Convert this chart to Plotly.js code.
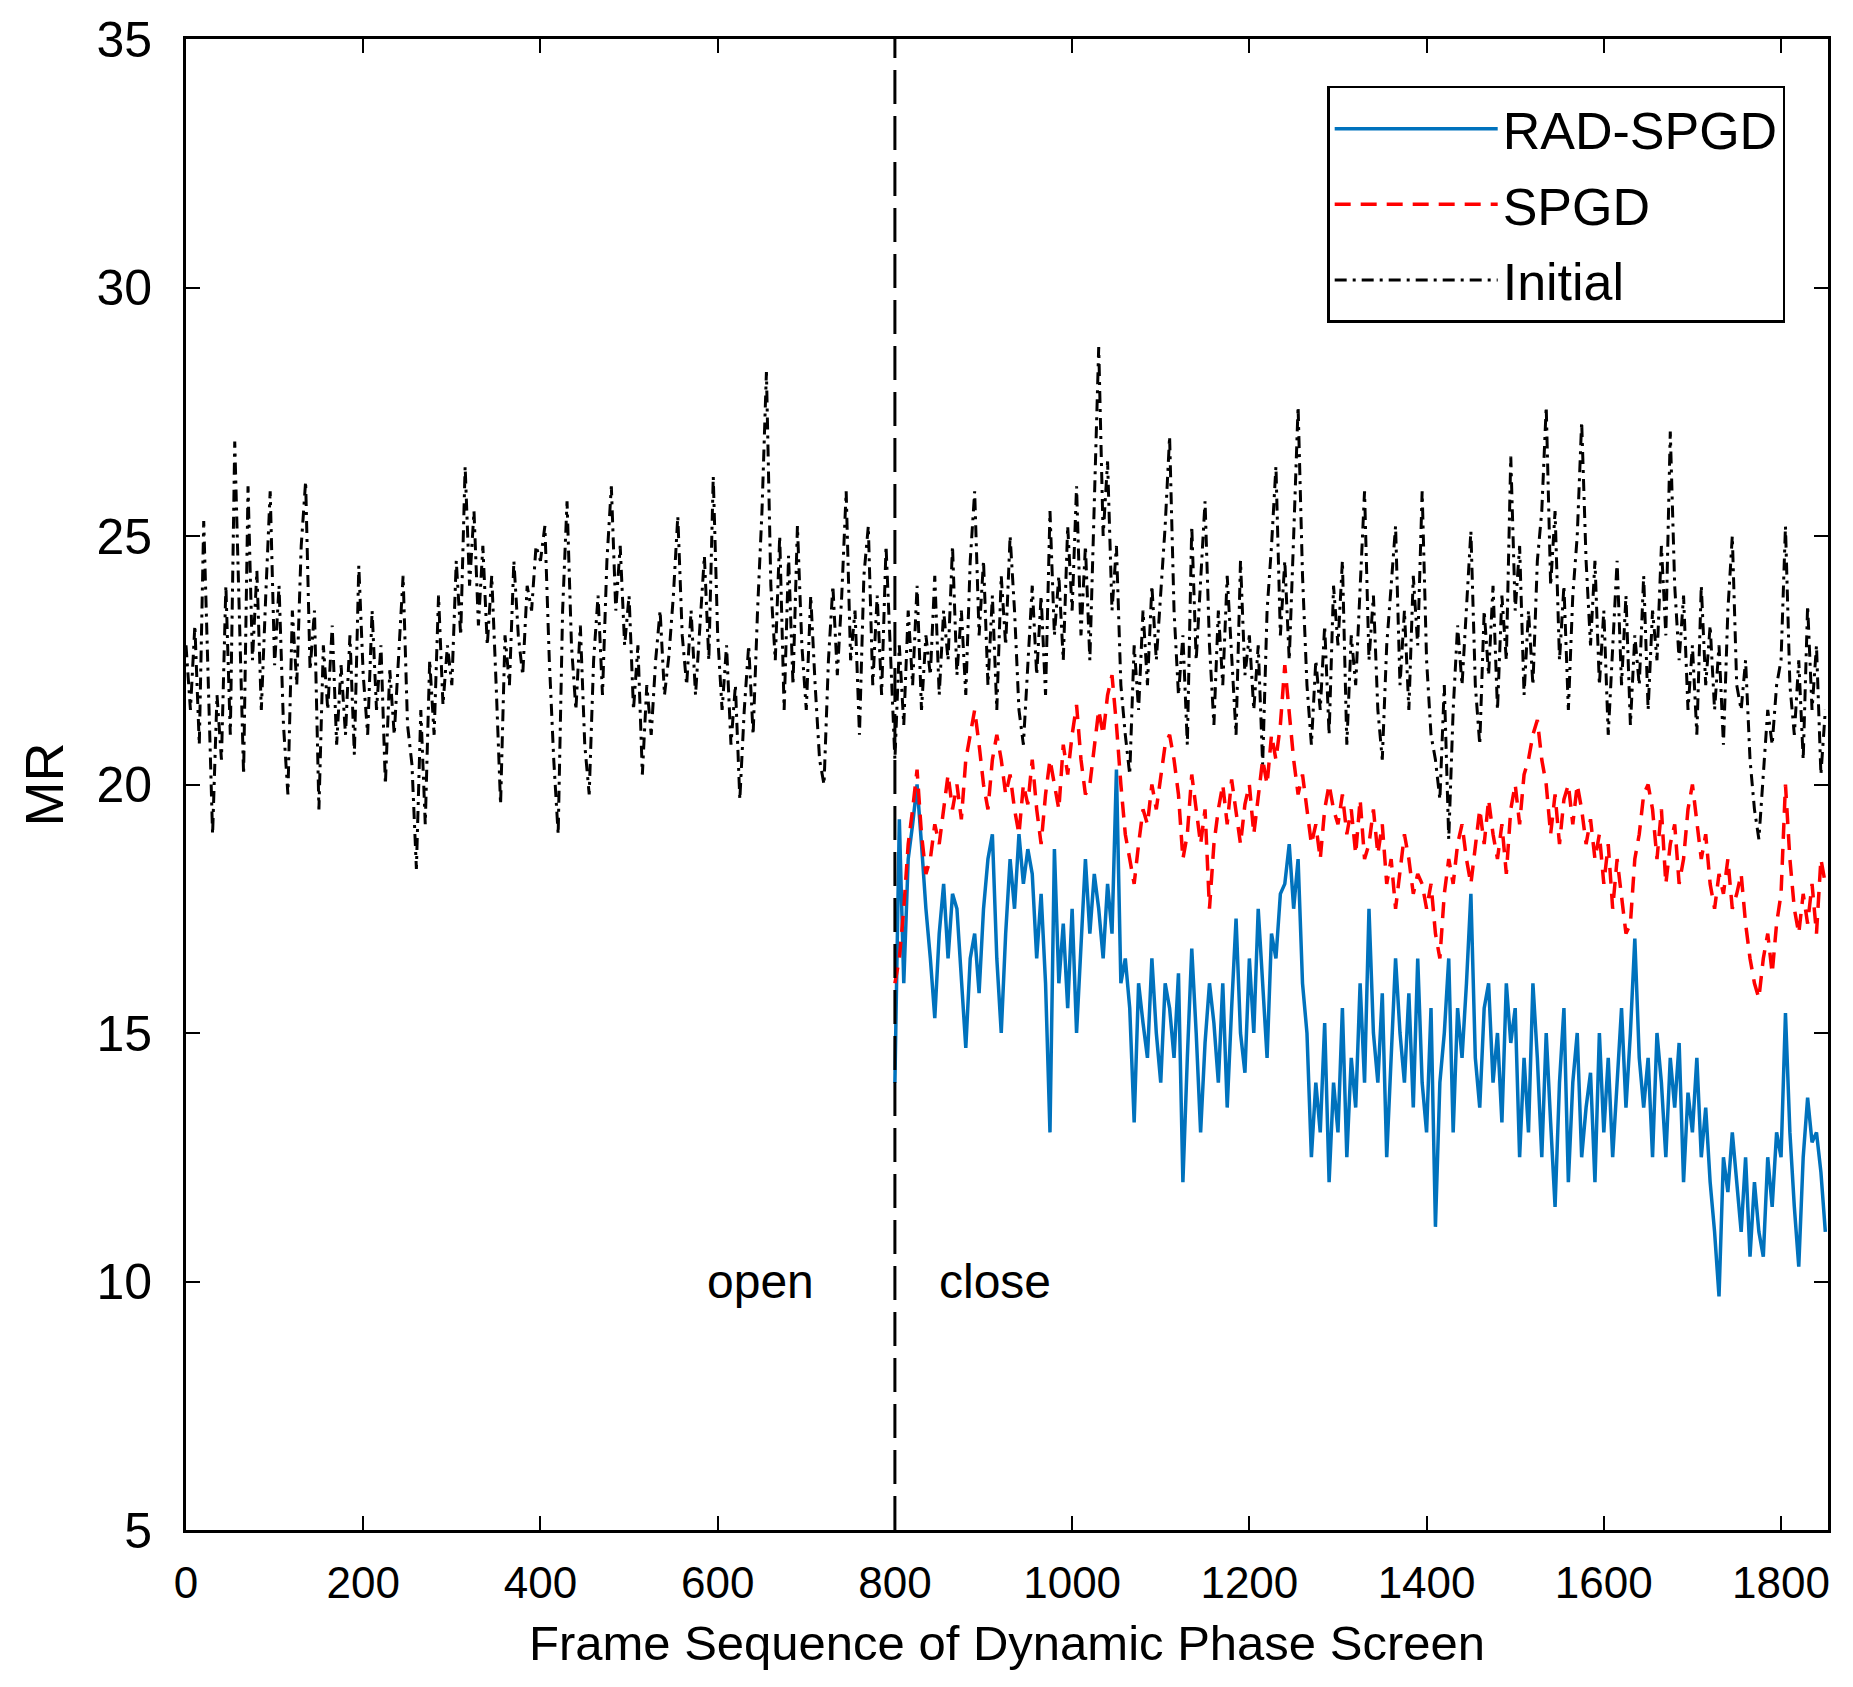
<!DOCTYPE html>
<html>
<head>
<meta charset="utf-8">
<script src="https://cdn.plot.ly/plotly-3.0.1.min.js"></script>
<style>
    html, body { margin: 0; padding: 0; background: #fff; }
    #mr-diagram { width: 1853px; height: 1687px; }
</style>
</head>
<body>
<div id="mr-diagram"></div>
<script>
const FRAME_STEP = 5;
const CLOSE_START = 800;

// Initial (open loop) MR, frames 0..1850
const initialMR = [
    22.8, 21.5, 23.2, 20.8, 25.3, 22.0, 19.0, 21.8, 20.5, 24.0, 21.0, 26.9, 23.5, 20.2, 26.0, 22.5, 24.3, 21.5, 23.8, 25.9,
    22.4, 24.0, 21.2, 19.8, 23.5, 22.0, 24.8, 26.1, 22.3, 23.5, 19.5, 22.8, 21.5, 23.2, 20.8, 22.4, 21.0, 23.0, 20.6, 24.4,
    22.2, 21.0, 23.5, 21.5, 22.8, 20.0, 22.3, 21.0, 22.6, 24.2, 21.2, 20.4, 18.3, 21.5, 19.2, 22.5, 21.0, 23.8, 21.6, 22.8,
    22.0, 24.5, 23.0, 26.4, 24.0, 25.5, 23.2, 24.8, 22.8, 24.2, 22.0, 19.6, 23.0, 22.0, 24.5, 23.0, 22.2, 24.0, 23.5, 24.8,
    24.5, 25.2, 22.5, 20.5, 19.0, 23.5, 25.7, 22.8, 21.5, 23.2, 20.8, 19.8, 22.5, 23.8, 21.8, 24.5, 26.0, 23.5, 24.8, 22.8,
    23.8, 21.5, 22.8, 20.2, 22.0, 21.0, 22.5, 23.5, 21.8, 22.6, 23.8, 25.4, 23.0, 22.0, 23.5, 21.8, 23.2, 24.6, 22.5, 26.2,
    23.0, 21.5, 22.8, 20.8, 22.0, 19.7, 21.5, 22.8, 21.0, 23.5, 25.5, 28.3, 24.0, 22.5, 25.0, 21.5, 24.6, 22.0, 25.2, 22.8,
    21.5, 23.8, 22.0, 20.5, 20.0, 22.5, 24.0, 22.2, 23.8, 25.9, 22.5, 23.5, 21.0, 24.2, 25.2, 22.0, 23.8, 21.8, 24.8, 22.5,
    20.5, 22.8, 21.2, 23.5, 22.0, 24.0, 21.5, 23.0, 22.2, 24.2, 21.8, 23.5, 22.5, 24.8, 22.2, 23.5, 21.8, 24.5, 25.9, 23.0,
    24.5, 22.0, 23.8, 21.5, 24.2, 22.8, 25.0, 23.5, 21.5, 20.8, 22.5, 24.0, 22.2, 23.8, 21.8, 25.5, 23.0, 24.2, 22.5, 25.2,
    23.5, 26.0, 23.0, 24.8, 22.5, 25.5, 28.8, 25.0, 26.5, 23.5, 24.8, 22.0, 21.0, 20.2, 22.8, 21.5, 23.5, 22.0, 24.0, 22.5,
    23.8, 25.2, 27.0, 23.5, 21.8, 23.0, 20.8, 25.2, 22.5, 24.0, 25.7, 22.8, 21.2, 23.5, 22.0, 24.2, 22.6, 21.0, 24.5, 22.2,
    23.0, 21.5, 22.8, 20.4, 23.5, 24.8, 26.4, 23.0, 24.5, 22.5, 25.0, 27.6, 24.2, 22.0, 20.8, 22.5, 21.5, 23.2, 21.0, 24.0,
    22.8, 24.5, 20.8, 23.0, 22.0, 24.0, 25.9, 22.5, 23.8, 21.5, 20.5, 22.8, 24.0, 25.2, 22.0, 23.5, 21.5, 24.2, 22.8, 25.9,
    22.5, 21.0, 20.5, 19.7, 22.0, 18.9, 21.5, 23.2, 22.0, 23.5, 25.1, 22.0, 20.8, 23.5, 22.2, 24.0, 21.5, 23.8, 22.5, 26.6,
    23.5, 24.8, 21.8, 23.5, 22.0, 24.5, 25.5, 27.6, 24.0, 25.5, 22.5, 24.0, 21.5, 23.8, 25.0, 27.3, 24.5, 22.8, 24.5, 22.0,
    23.5, 21.0, 22.8, 24.5, 22.0, 23.8, 21.2, 23.0, 22.0, 24.2, 21.5, 23.5, 22.5, 24.8, 23.0, 27.1, 24.0, 22.5, 23.8, 21.5,
    22.8, 21.0, 24.0, 22.0, 23.2, 21.5, 22.8, 20.8, 23.5, 25.0, 22.0, 21.5, 22.5, 20.5, 19.5, 18.9, 20.2, 21.5, 20.8, 22.0,
    22.5, 25.2, 22.0, 21.0, 22.5, 20.5, 23.6, 21.5, 22.8, 20.2, 21.5
];

// SPGD closed loop MR, frames 800..1850
const spgdMR = [
    16.0, 16.5, 17.5, 18.8, 19.5, 20.3, 19.0, 18.2, 18.5, 19.2, 18.8, 19.5, 20.2, 19.5, 20.0, 19.3, 20.5, 21.0, 21.5, 20.8,
    20.0, 19.5, 20.5, 21.0, 20.5, 19.8, 20.2, 19.5, 19.0, 20.0, 19.6, 20.5, 19.5, 18.8, 19.8, 20.5, 20.0, 19.5, 20.8, 20.2,
    21.0, 21.6, 20.5, 19.8, 20.0, 20.8, 21.5, 21.0, 21.8, 22.2, 21.2, 20.0, 19.0, 18.5, 18.0, 18.8, 19.5, 19.2, 20.0, 19.5,
    20.2, 20.8, 21.0, 20.5, 19.8, 18.5, 19.0, 20.2, 19.5, 18.8, 19.5, 17.5, 18.8, 19.5, 20.0, 19.2, 20.1, 19.5, 18.8, 19.6,
    20.0, 19.0, 19.8, 20.5, 20.0, 21.0, 20.5, 21.2, 22.4, 21.5, 20.5, 19.8, 20.2, 19.5, 18.8, 19.2, 18.5, 19.5, 20.0, 19.5,
    19.2, 19.8, 19.0, 19.5, 18.6, 19.7, 18.5, 18.8, 19.5, 18.6, 19.2, 18.0, 18.5, 17.5, 18.2, 19.0, 18.5, 17.8, 18.2, 18.0,
    17.5, 18.0, 17.0, 16.5, 17.8, 18.5, 18.0, 18.8, 19.2, 18.5, 18.0, 18.8, 19.5, 18.8, 19.7, 19.0, 18.5, 19.2, 18.2, 19.5,
    20.0, 19.2, 20.2, 20.5, 21.0, 21.3, 20.5, 20.0, 19.0, 19.8, 18.8, 19.7, 20.0, 19.2, 20.0, 19.5, 18.8, 19.3, 18.5, 19.0,
    18.0, 18.8, 17.5, 18.5, 17.8, 17.0, 17.2, 18.5, 19.0, 19.8, 20.0, 19.5, 18.5, 19.5, 18.0, 18.8, 19.2, 18.0, 18.5, 19.5,
    20.0, 19.2, 18.5, 19.0, 18.0, 17.5, 18.2, 17.8, 18.5, 17.5, 17.8, 18.2, 17.2, 16.5, 16.0, 15.7, 16.5, 17.0, 16.2, 17.2,
    17.8, 20.0, 18.5, 17.5, 17.0, 17.8, 17.2, 18.0, 17.0, 18.5, 18.0
];

// RAD-SPGD closed loop MR, frames 800..1850
const radSpgdMR = [
    14.0, 19.3, 16.0, 18.5, 19.2, 20.0, 18.8, 17.5, 16.5, 15.3, 17.0, 18.0, 16.5, 17.8, 17.5, 16.0, 14.7, 16.5, 17.0, 15.8,
    17.5, 18.5, 19.0, 16.5, 15.0, 17.0, 18.5, 17.5, 19.0, 18.0, 18.7, 18.2, 16.5, 17.8, 16.0, 13.0, 18.7, 16.0, 17.2, 15.5,
    17.5, 15.0, 16.8, 18.5, 17.0, 18.2, 17.5, 16.5, 18.0, 17.0, 20.3, 16.0, 16.5, 15.5, 13.2, 16.0, 15.2, 14.5, 16.5, 15.0,
    14.0, 16.0, 15.5, 14.5, 16.2, 12.0, 14.5, 16.7, 15.0, 13.0, 14.8, 16.0, 15.2, 14.0, 16.0, 13.5, 15.5, 17.3, 15.0, 14.2,
    16.5, 15.0, 17.5, 16.0, 14.5, 17.0, 16.5, 17.8, 18.0, 18.8, 17.5, 18.5, 16.0, 15.0, 12.5, 14.0, 13.0, 15.2, 12.0, 14.0,
    13.0, 15.5, 12.5, 14.5, 13.5, 16.0, 14.0, 17.5, 15.0, 14.0, 15.8, 12.5, 14.5, 16.5, 15.0, 14.0, 15.8, 13.5, 16.5, 14.0,
    13.0, 15.5, 11.1, 14.0, 15.0, 16.5, 13.0, 15.5, 14.5, 16.0, 17.8, 14.5, 13.5, 15.5, 16.0, 14.0, 15.0, 13.2, 16.0, 14.8,
    15.5, 12.5, 14.5, 13.0, 16.0, 14.5, 12.5, 15.0, 13.2, 11.5, 14.0, 15.5, 12.0, 14.0, 15.0, 12.5, 13.5, 14.2, 12.0, 15.0,
    13.0, 14.5, 12.5, 14.0, 15.5, 13.5, 15.0, 16.9, 14.5, 13.5, 14.5, 12.5, 15.0, 14.0, 12.5, 14.5, 13.5, 14.8, 12.0, 13.8,
    13.0, 14.5, 12.5, 13.5, 12.0, 11.0, 9.7, 12.5, 11.8, 13.0, 12.0, 11.0, 12.5, 10.5, 12.0, 11.0, 10.5, 12.5, 11.5, 13.0,
    12.5, 15.4, 13.0, 11.5, 10.3, 12.5, 13.7, 12.8, 13.0, 12.2, 11.0
];

const xTicks = [0, 200, 400, 600, 800, 1000, 1200, 1400, 1600, 1800];
const yTicks = [5, 10, 15, 20, 25, 30, 35];

const FONT = '"Liberation Sans", Arial, Helvetica, sans-serif';

/**
 * Create diagram of MR over the dynamic phase screen frames
 */
function createMRDiagram() {
    let initialFrames = initialMR.map((v, i) => i * FRAME_STEP);
    let closedFrames = radSpgdMR.map((v, i) => CLOSE_START + i * FRAME_STEP);

    let initial = {
        x: initialFrames,
        y: initialMR,
        name: 'Initial',
        type: 'scatter',
        mode: 'lines',
        legendrank: 3,
        legendgroup: 'c',
        line: {
            color: '#000000',
            width: 3,
            dash: '12px,6px,3px,6px'
        }
    }

    let radSpgd = {
        x: closedFrames,
        y: radSpgdMR,
        name: 'RAD-SPGD',
        type: 'scatter',
        mode: 'lines',
        legendrank: 1,
        legendgroup: 'a',
        line: {
            color: '#0072BD',
            width: 3.5
        }
    }

    let spgd = {
        x: closedFrames,
        y: spgdMR,
        name: 'SPGD',
        type: 'scatter',
        mode: 'lines',
        legendrank: 2,
        legendgroup: 'b',
        line: {
            color: '#FF0000',
            width: 3.5,
            dash: '16px,10px'
        }
    }

    let data = [initial, radSpgd, spgd];

    // Open / close separator
    let shapes = [{
        type: 'line',
        x0: CLOSE_START,
        x1: CLOSE_START,
        yref: 'paper',
        y0: 0,
        y1: 1,
        line: {
            color: '#000',
            width: 3,
            dash: '34px,12px'
        }
    }];

    let annotations = [
        { text: 'open', x: 648, y: 10, showarrow: false, font: { family: FONT, size: 48, color: '#000' } },
        { text: 'close', x: 913, y: 10, showarrow: false, font: { family: FONT, size: 48, color: '#000' } }
    ];

    let axisCommon = {
        showgrid: false,
        zeroline: false,
        showline: true,
        linecolor: '#000',
        linewidth: 3,
        mirror: 'ticks',
        ticks: 'inside',
        ticklen: 14,
        tickwidth: 2,
        tickcolor: '#000'
    }

    let layout = {
        width: 1853,
        height: 1687,
        paper_bgcolor: '#fff',
        plot_bgcolor: '#fff',
        font: { family: FONT, color: '#000' },
        showlegend: true,
        legend: {
            x: 0.695,
            y: 0.9685,
            xanchor: 'left',
            yanchor: 'top',
            traceorder: 'grouped',
            tracegroupgap: 5,
            bgcolor: '#fff',
            bordercolor: '#000',
            borderwidth: 2.5,
            itemwidth: 163,
            font: { family: FONT, size: 52, color: '#000' }
        },
        shapes: shapes,
        annotations: annotations,
        xaxis: Object.assign({}, axisCommon, {
            range: [0, 1853],
            tickvals: xTicks,
            ticklabelstandoff: 12,
            tickfont: { family: FONT, size: 44 },
            title: { text: 'Frame Sequence of Dynamic Phase Screen', font: { family: FONT, size: 49 }, standoff: 20 }
        }),
        yaxis: Object.assign({}, axisCommon, {
            range: [5, 35],
            tickvals: yTicks,
            ticklabelstandoff: 21,
            tickfont: { family: FONT, size: 50 },
            title: { text: 'MR', font: { family: FONT, size: 54 }, standoff: 16 }
        }),
        margin: {
            l: 186,
            r: 25,
            t: 39,
            b: 157
        }
    }

    let config = {
        displayModeBar: false,
        responsive: false
    }

    let htmlElement = document.getElementById('mr-diagram');
    htmlElement.innerHTML = '';
    Plotly.newPlot(htmlElement, data, layout, config);
}

createMRDiagram();
</script>
</body>
</html>
